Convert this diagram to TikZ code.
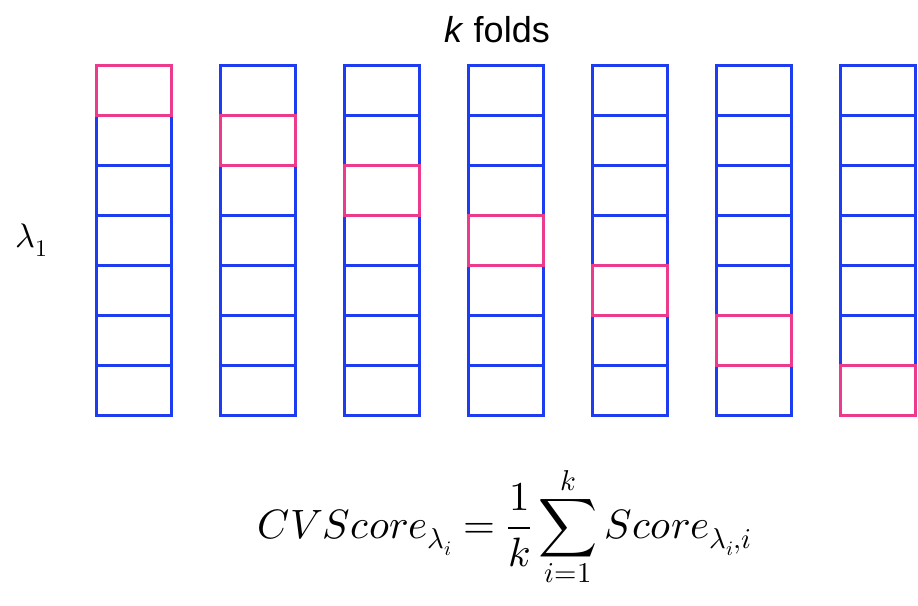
\documentclass[tikz,border=0pt]{standalone}
\usepackage{unicode-math}
\setmathfont{Latin Modern Math}
\newfontfamily\arialfont{Liberation Sans}
\definecolor{cellblue}{RGB}{30,60,240}
\definecolor{cellpink}{RGB}{236,58,140}
\begin{document}
\begin{tikzpicture}[x=1pt,y=-1pt,
  cell/.style={draw=cellblue,line width=3pt,minimum width=75pt,minimum height=50pt,inner sep=0pt,outer sep=0pt},
  testcell/.style={cell,draw=cellpink}]
\useasboundingbox (0,0) rectangle (918,605);
\foreach \c in {0,...,6}{
  \foreach \r in {0,...,6}{
    \node[cell] (c\c-\r) at ({133.5+124*\c},{90+50*\r}) {};
  }
}
\foreach \c in {0,...,6}{
  \node[testcell] (t\c) at ({133.5+124*\c},{90+50*\c}) {};
}
\node (title) at (497,30) {\arialfont\fontsize{36}{40}\selectfont\textit{k} folds};
\node (lam) at (32,240) {\fontsize{34}{38}\selectfont$\lambda_1$};
\node (formula) at (505,527) {\fontsize{41}{46}\selectfont$\displaystyle CVScore_{\lambda_i}=\frac{1}{k}\sum_{i=1}^{k} Score_{\lambda_i,i}$};
\end{tikzpicture}
\end{document}
